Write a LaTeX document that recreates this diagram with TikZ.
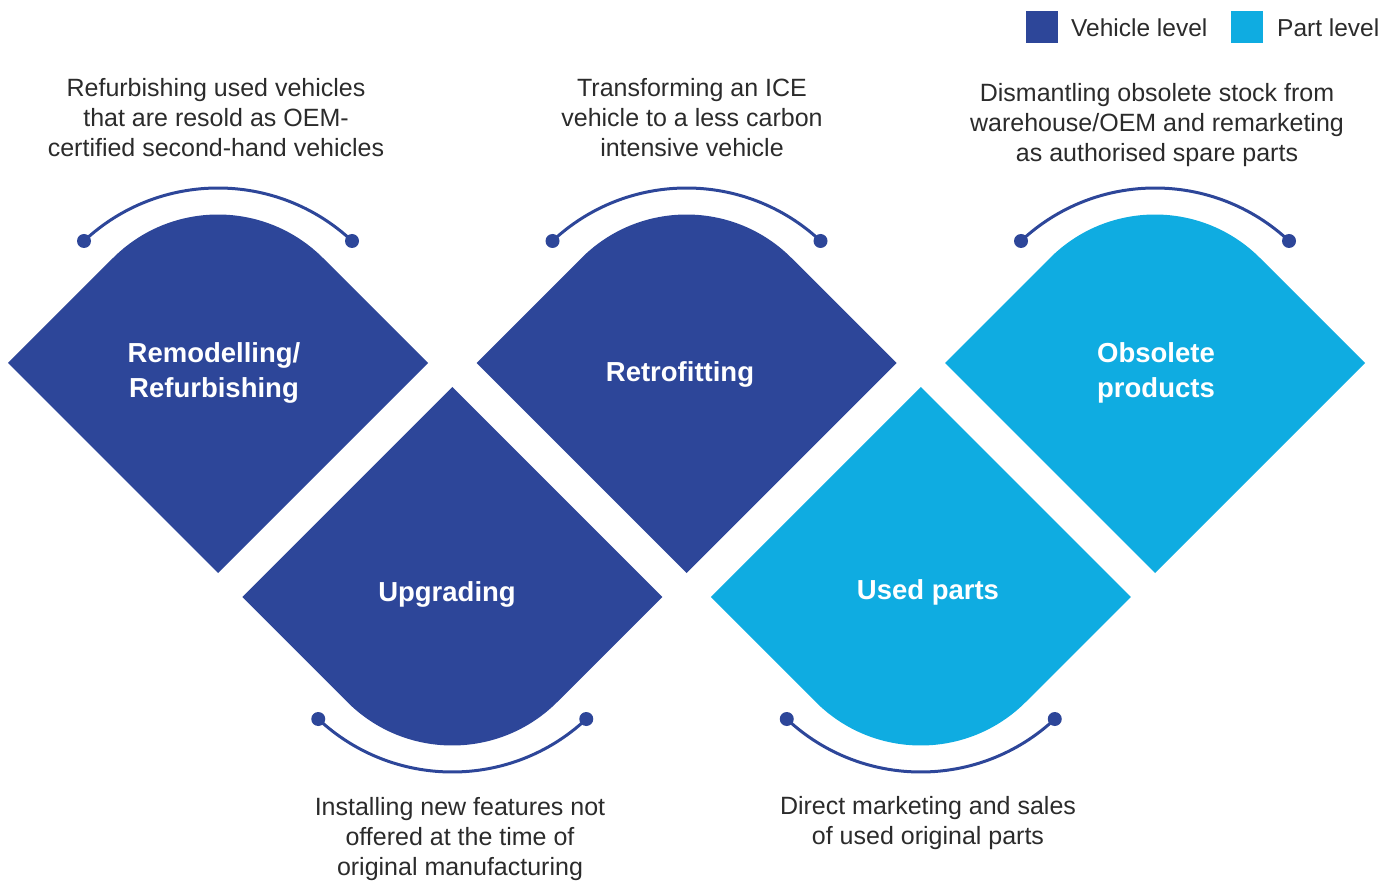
\documentclass[tikz,border=0pt]{standalone}
\usepackage{fontspec}
\setmainfont{Liberation Sans}
\definecolor{vblue}{HTML}{2D4699}
\definecolor{pblue}{HTML}{0FACE1}
\definecolor{txt}{HTML}{2B2B2B}
\newcommand\topshape[3]{\fill[#3, shift={(#1,#2)}] (-210,0) -- (-105,-105) arc[start angle=225, end angle=315, radius=148.49] -- (210,0) -- (0,210) -- cycle;}
\newcommand\botshape[3]{\fill[#3, shift={(#1,#2)}] (-210,0) -- (0,-210) -- (210,0) -- (105,105) arc[start angle=45, end angle=135, radius=148.49] -- cycle;}
\begin{document}
\begin{tikzpicture}[x=1pt,y=-1pt,
  desc/.style={align=center, text=txt, font=\fontsize{25}{30}\selectfont, inner sep=0pt},
  lab/.style={align=center, text=white, font=\fontsize{27.5}{35}\selectfont\bfseries, inner sep=0pt},
  dot/.style={circle, fill=vblue, minimum size=14pt, inner sep=0pt},
  link/.style={draw=vblue, line width=3pt},
  legbox/.style={minimum size=32pt, inner sep=0pt},
  legtext/.style={anchor=west, text=txt, font=\fontsize{24.5}{30}\selectfont, inner sep=0pt}]
\useasboundingbox (0,0) rectangle (1393,882);

% shapes
\topshape{218}{363}{vblue}
\botshape{452.25}{597}{vblue}
\topshape{686.5}{363}{vblue}
\botshape{920.75}{597}{pblue}
\topshape{1155}{363}{pblue}

% labels
\node[lab] (remod) at (214,373) {Remodelling/\\Refurbishing};
\node[lab] (upgr) at (447,594) {Upgrading};
\node[lab] (retro) at (680,374) {Retrofitting};
\node[lab] (used) at (928,592) {Used parts};
\node[lab] (obso) at (1156,373) {Obsolete\\products};

% arcs with dots
\node[dot] (remodL) at (84,241) {};
\node[dot] (remodR) at (352,241) {};
\draw[link] (remodL.center) arc[start angle=226.85, end angle=313.15, radius=196];
\node[dot] (retroL) at (552.5,241) {};
\node[dot] (retroR) at (820.5,241) {};
\draw[link] (retroL.center) arc[start angle=226.85, end angle=313.15, radius=196];
\node[dot] (obsoL) at (1021,241) {};
\node[dot] (obsoR) at (1289,241) {};
\draw[link] (obsoL.center) arc[start angle=226.85, end angle=313.15, radius=196];
\node[dot] (upgrL) at (318.25,719) {};
\node[dot] (upgrR) at (586.25,719) {};
\draw[link] (upgrL.center) arc[start angle=133.15, end angle=46.85, radius=196];
\node[dot] (usedL) at (786.75,719) {};
\node[dot] (usedR) at (1054.75,719) {};
\draw[link] (usedL.center) arc[start angle=133.15, end angle=46.85, radius=196];

% descriptions
\node[desc] (d1) at (216,117.5) {Refurbishing used vehicles\\that are resold as OEM-\\certified second-hand vehicles};
\node[desc] (d2) at (692,117.5) {Transforming an ICE\\vehicle to a less carbon\\intensive vehicle};
\node[desc] (d3) at (1157,125) {Dismantling obsolete stock from\\warehouse/OEM and remarketing\\as authorised spare parts};
\node[desc] (d4) at (460,839) {Installing new features not\\offered at the time of\\original manufacturing};
\node[desc] (d5) at (928,823.5) {Direct marketing and sales\\of used original parts};

% legend
\node[legbox, fill=vblue] (legV) at (1042,27) {};
\node[legtext] (legVt) at (1071,28) {Vehicle level};
\node[legbox, fill=pblue] (legP) at (1247,27) {};
\node[legtext] (legPt) at (1277,28) {Part level};
\end{tikzpicture}
\end{document}
